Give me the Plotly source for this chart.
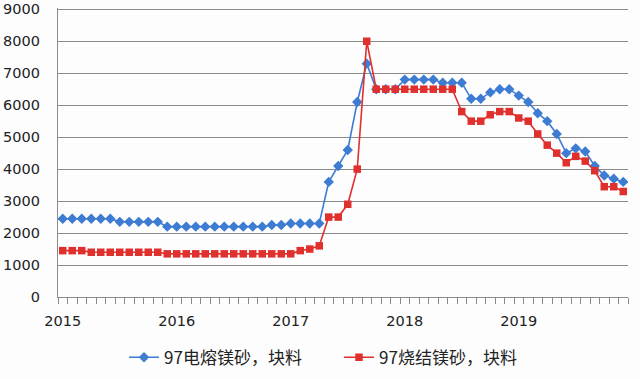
import plotly.graph_objects as go

months = [f"{y}-{m:02d}" for y in range(2015, 2020) for m in range(1, 13)]
year_labels = ["2015", "2016", "2017", "2018", "2019"]

fused = [2450, 2450, 2450, 2450, 2450, 2450,
         2350, 2350, 2350, 2350, 2350,
         2200, 2200, 2200, 2200, 2200, 2200, 2200, 2200, 2200, 2200, 2200,
         2250, 2250, 2300, 2300, 2300, 2300,
         3600, 4100, 4600, 6100, 7300, 6500,
         6500, 6500, 6800, 6800, 6800, 6800, 6700, 6700, 6700,
         6200, 6200, 6400, 6500, 6500, 6300, 6100, 5750, 5500, 5100,
         4500, 4650, 4550, 4100, 3800, 3700, 3600]

sintered = [1450, 1450, 1450,
            1400, 1400, 1400, 1400, 1400, 1400, 1400, 1400,
            1350, 1350, 1350, 1350, 1350, 1350, 1350, 1350, 1350, 1350, 1350, 1350, 1350, 1350,
            1450, 1500, 1600,
            2500, 2500, 2900, 4000, 8000, 6500,
            6500, 6500, 6500, 6500, 6500, 6500, 6500, 6500,
            5800, 5500, 5500, 5700, 5800, 5800, 5600, 5500, 5100, 4750, 4500,
            4200, 4400, 4250, 3950, 3450, 3450, 3300]

names = ["97电熔镁砂，块料", "97烧结镁砂，块料"]
y_ticks = [0, 1000, 2000, 3000, 4000, 5000, 6000, 7000, 8000, 9000]

idx = list(range(len(months)))
label_pos = [months.index(f"{y}-01") for y in year_labels]

fig = go.Figure()
fig.add_trace(go.Scatter(x=idx, y=fused, name=names[0], mode="lines+markers",
                         line=dict(color="#3d7cd2", width=1.6),
                         marker=dict(symbol="diamond", size=8, color="#3d7cd2")))
fig.add_trace(go.Scatter(x=idx, y=sintered, name=names[1], mode="lines+markers",
                         line=dict(color="#e0302e", width=1.6),
                         marker=dict(symbol="square", size=7.5, color="#e0302e")))

font = dict(family="DejaVu Sans", size=14.5, color="#222222")
fig.update_layout(
    width=640, height=379,
    margin=dict(l=58, r=12, t=8, b=82, autoexpand=False),
    paper_bgcolor="#fdfdfd", plot_bgcolor="#fdfdfd",
    font=font,
    showlegend=True,
    legend=dict(orientation="h", x=0.493, xanchor="center", y=-0.21, yanchor="middle",
                font=dict(family="Noto Sans CJK SC", size=17, color="#222222"),
                itemwidth=30, tracegroupgap=0, entrywidth=170, entrywidthmode="pixels"),
    xaxis=dict(range=[-0.5, len(months) - 0.5], tickvals=label_pos, ticktext=year_labels,
               ticks="outside", ticklen=10, tickcolor="rgba(0,0,0,0)", automargin=False,
               showgrid=False, zeroline=False, showline=True, linecolor="#8a8a8a", linewidth=1.2,
               minor=dict(tick0=-0.5, dtick=1, ticks="outside", ticklen=6, tickcolor="#8a8a8a",
                          showgrid=False),
               tickfont=font),
    yaxis=dict(range=[0, 9040], tickvals=y_ticks, showgrid=True, gridcolor="#8a8a8a", gridwidth=1.2,
               zeroline=False, showline=True, linecolor="#8a8a8a", linewidth=1.2, automargin=False,
               ticks="outside", ticklen=14, tickcolor="rgba(0,0,0,0)", tickfont=font),
)

fig.write_html("out.html", config={"displayModeBar": False},
               post_script="document.body.style.margin='0';document.body.style.padding='0';")
